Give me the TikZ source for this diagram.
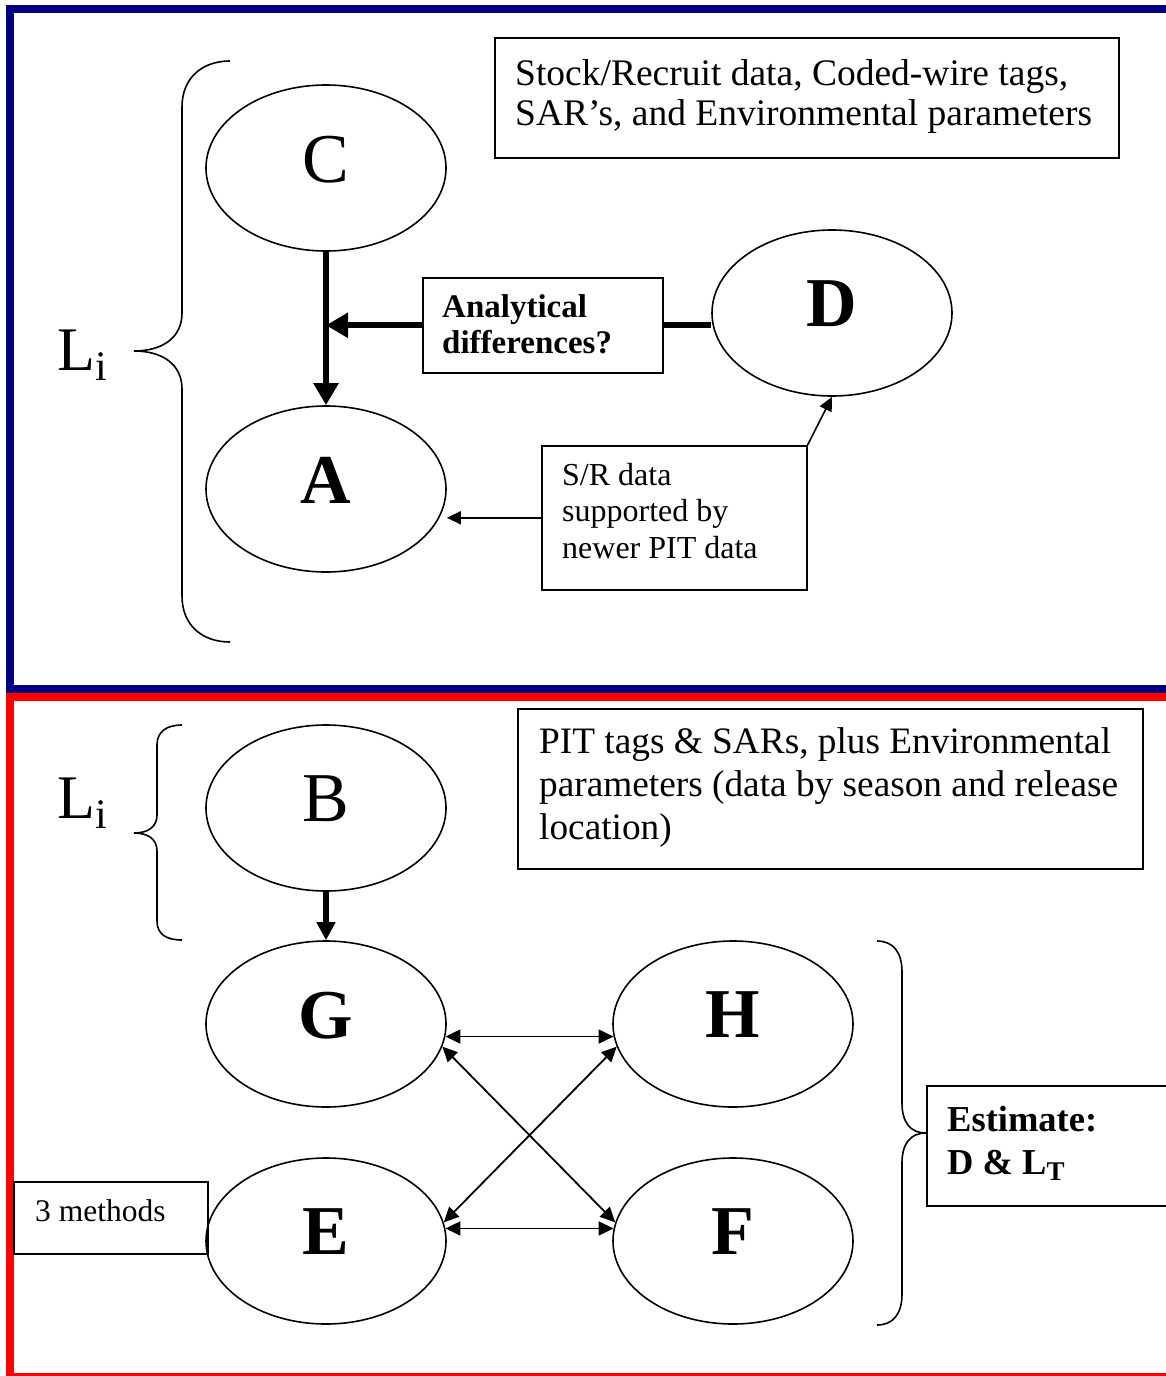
\documentclass[tikz,border=0pt]{standalone}
\usepackage{fontspec}
\setmainfont{Liberation Serif}
\usetikzlibrary{arrows.meta,shapes.geometric,calc}
\definecolor{framenavy}{RGB}{0,0,128}
\definecolor{framered}{RGB}{255,0,0}
\begin{document}
\begin{tikzpicture}[x=1pt,y=-1pt,
  ell/.style={ellipse,draw,line width=1.6pt,minimum width=240pt,minimum height=166pt,inner sep=0pt,
    font=\fontsize{70}{70}\selectfont,text depth=18pt},
  boldell/.style={ell,font=\fontsize{70}{70}\selectfont\bfseries},
  box/.style={draw,line width=1.6pt,inner sep=0pt,anchor=north west},
  txt/.style={anchor=base west,inner sep=0pt},
  brace/.style={line width=1.6pt},
  thickarrow/.style={line width=6pt,-{Triangle[length=22pt,width=24pt]}},
  thickarrowb/.style={line width=6pt,-{Triangle[length=18pt,width=18pt]}},
  thickline/.style={line width=6pt},
  thinarrow/.style={line width=1.6pt,-{Triangle[length=14pt,width=13pt]}},
  dblarrow/.style={line width=1.8pt,{Triangle[length=15pt,width=14pt]}-{Triangle[length=15pt,width=14pt]}}
]
\useasboundingbox (0,0) rectangle (1166,1376);
\clip (0,0) rectangle (1166,1376);
% frames
\draw[framenavy,line width=8pt] (9.5,9) rectangle (1190,689);
\draw[framered,line width=8pt] (9.5,697) rectangle (1190,1377);

% ---------- top panel ----------
\node[ell] (C) at (326,168) {C};
\node[boldell] (A) at (326,489) {A};
\node[boldell] (D) at (832,313) {D};

\node[box,minimum width=624pt,minimum height=120pt] (srcbox) at (494,37) {};
\node[txt,font=\fontsize{37.5}{40}\selectfont] (srctext) at (515,85)
  {\begin{tabular}[t]{@{}l@{}}Stock/Recruit data, Coded-wire tags,\\SAR’s, and Environmental parameters\end{tabular}};

\node[box,minimum width=240pt,minimum height=95pt] (anbox) at (422,277) {};
\node[txt,font=\fontsize{33}{36}\selectfont\bfseries] (antext) at (442,317)
  {\begin{tabular}[t]{@{}l@{}}Analytical\\differences?\end{tabular}};

\node[box,minimum width=265pt,minimum height=144pt] (srbox) at (541,445) {};
\node[txt,font=\fontsize{32}{36.5}\selectfont] (srtext) at (562,485)
  {\begin{tabular}[t]{@{}l@{}}S/R data\\supported by\\newer PIT data\end{tabular}};

\draw[brace] (230,61) .. controls (202,61) and (182,78) .. (182,107) -- (182,313)
  .. controls (182,338) and (162,351) .. (134,351)
  .. controls (162,351) and (182,364) .. (182,389) -- (182,596)
  .. controls (182,625) and (202,642) .. (230,642);
\node[txt,font=\fontsize{62}{62}\selectfont] (Litop) at (57,370)
  {L\raisebox{-10pt}{\fontsize{42}{42}\selectfont i}};

\draw[thickarrow] (C.south) -- (A.north);
\draw[thickarrow] (anbox.west) -- (anbox.west -| C.south);
\draw[thickline] (anbox.east) -- (anbox.east -| D.west);
\draw[thinarrow] (srbox.west) -- (srbox.west -| A.east);
\draw[thinarrow] (srbox.north east) -- (D.south);

% ---------- bottom panel ----------
\node[ell] (B) at (326,808) {B};
\node[boldell] (G) at (326,1024) {G};
\node[boldell] (H) at (733,1024) {H};
\node[boldell] (E) at (326,1241) {E};
\node[boldell] (F) at (733,1241) {F};

\node[box,minimum width=625pt,minimum height=160pt] (pitbox) at (517,708) {};
\node[txt,font=\fontsize{37.3}{43}\selectfont] (pittext) at (539,753)
  {\begin{tabular}[t]{@{}l@{}}PIT tags \& SARs, plus Environmental\\parameters (data by season and release\\location)\end{tabular}};

\node[box,minimum width=194pt,minimum height=72pt] (methbox) at (13,1181) {};
\node[txt,font=\fontsize{31.5}{36}\selectfont] (methtext) at (35,1221) {3 methods};

\node[box,minimum width=240pt,minimum height=120pt] (estbox) at (926,1085) {};
\node[txt,font=\fontsize{36.5}{43}\selectfont\bfseries] (esttext) at (947,1131)
  {\begin{tabular}[t]{@{}l@{}}Estimate:\\D \& L\raisebox{-6pt}{\fontsize{27}{27}\selectfont T}\end{tabular}};

\draw[brace] (182,725) .. controls (166,725) and (157,732) .. (157,745) -- (157,815)
  .. controls (157,827) and (148,833) .. (134,833)
  .. controls (148,833) and (157,839) .. (157,851) -- (157,921)
  .. controls (157,934) and (166,940) .. (182,940);
\node[txt,font=\fontsize{62}{62}\selectfont] (Libot) at (57,818)
  {L\raisebox{-10pt}{\fontsize{42}{42}\selectfont i}};

\draw[brace] (877,941) .. controls (893,941) and (902,952) .. (902,972) -- (902,1103)
  .. controls (902,1122) and (910,1133) .. (926,1133)
  .. controls (910,1133) and (902,1144) .. (902,1163) -- (902,1294)
  .. controls (902,1314) and (893,1325) .. (877,1325);

\draw[thickarrowb] (B.south) -- (G.north);
\draw[dblarrow] (G.-6) -- (H.186);
\draw[dblarrow] (E.6) -- (F.174);
\draw[dblarrow] (G.-11) -- (F.171);
\draw[dblarrow] (H.191) -- (E.9);
\end{tikzpicture}
\end{document}
